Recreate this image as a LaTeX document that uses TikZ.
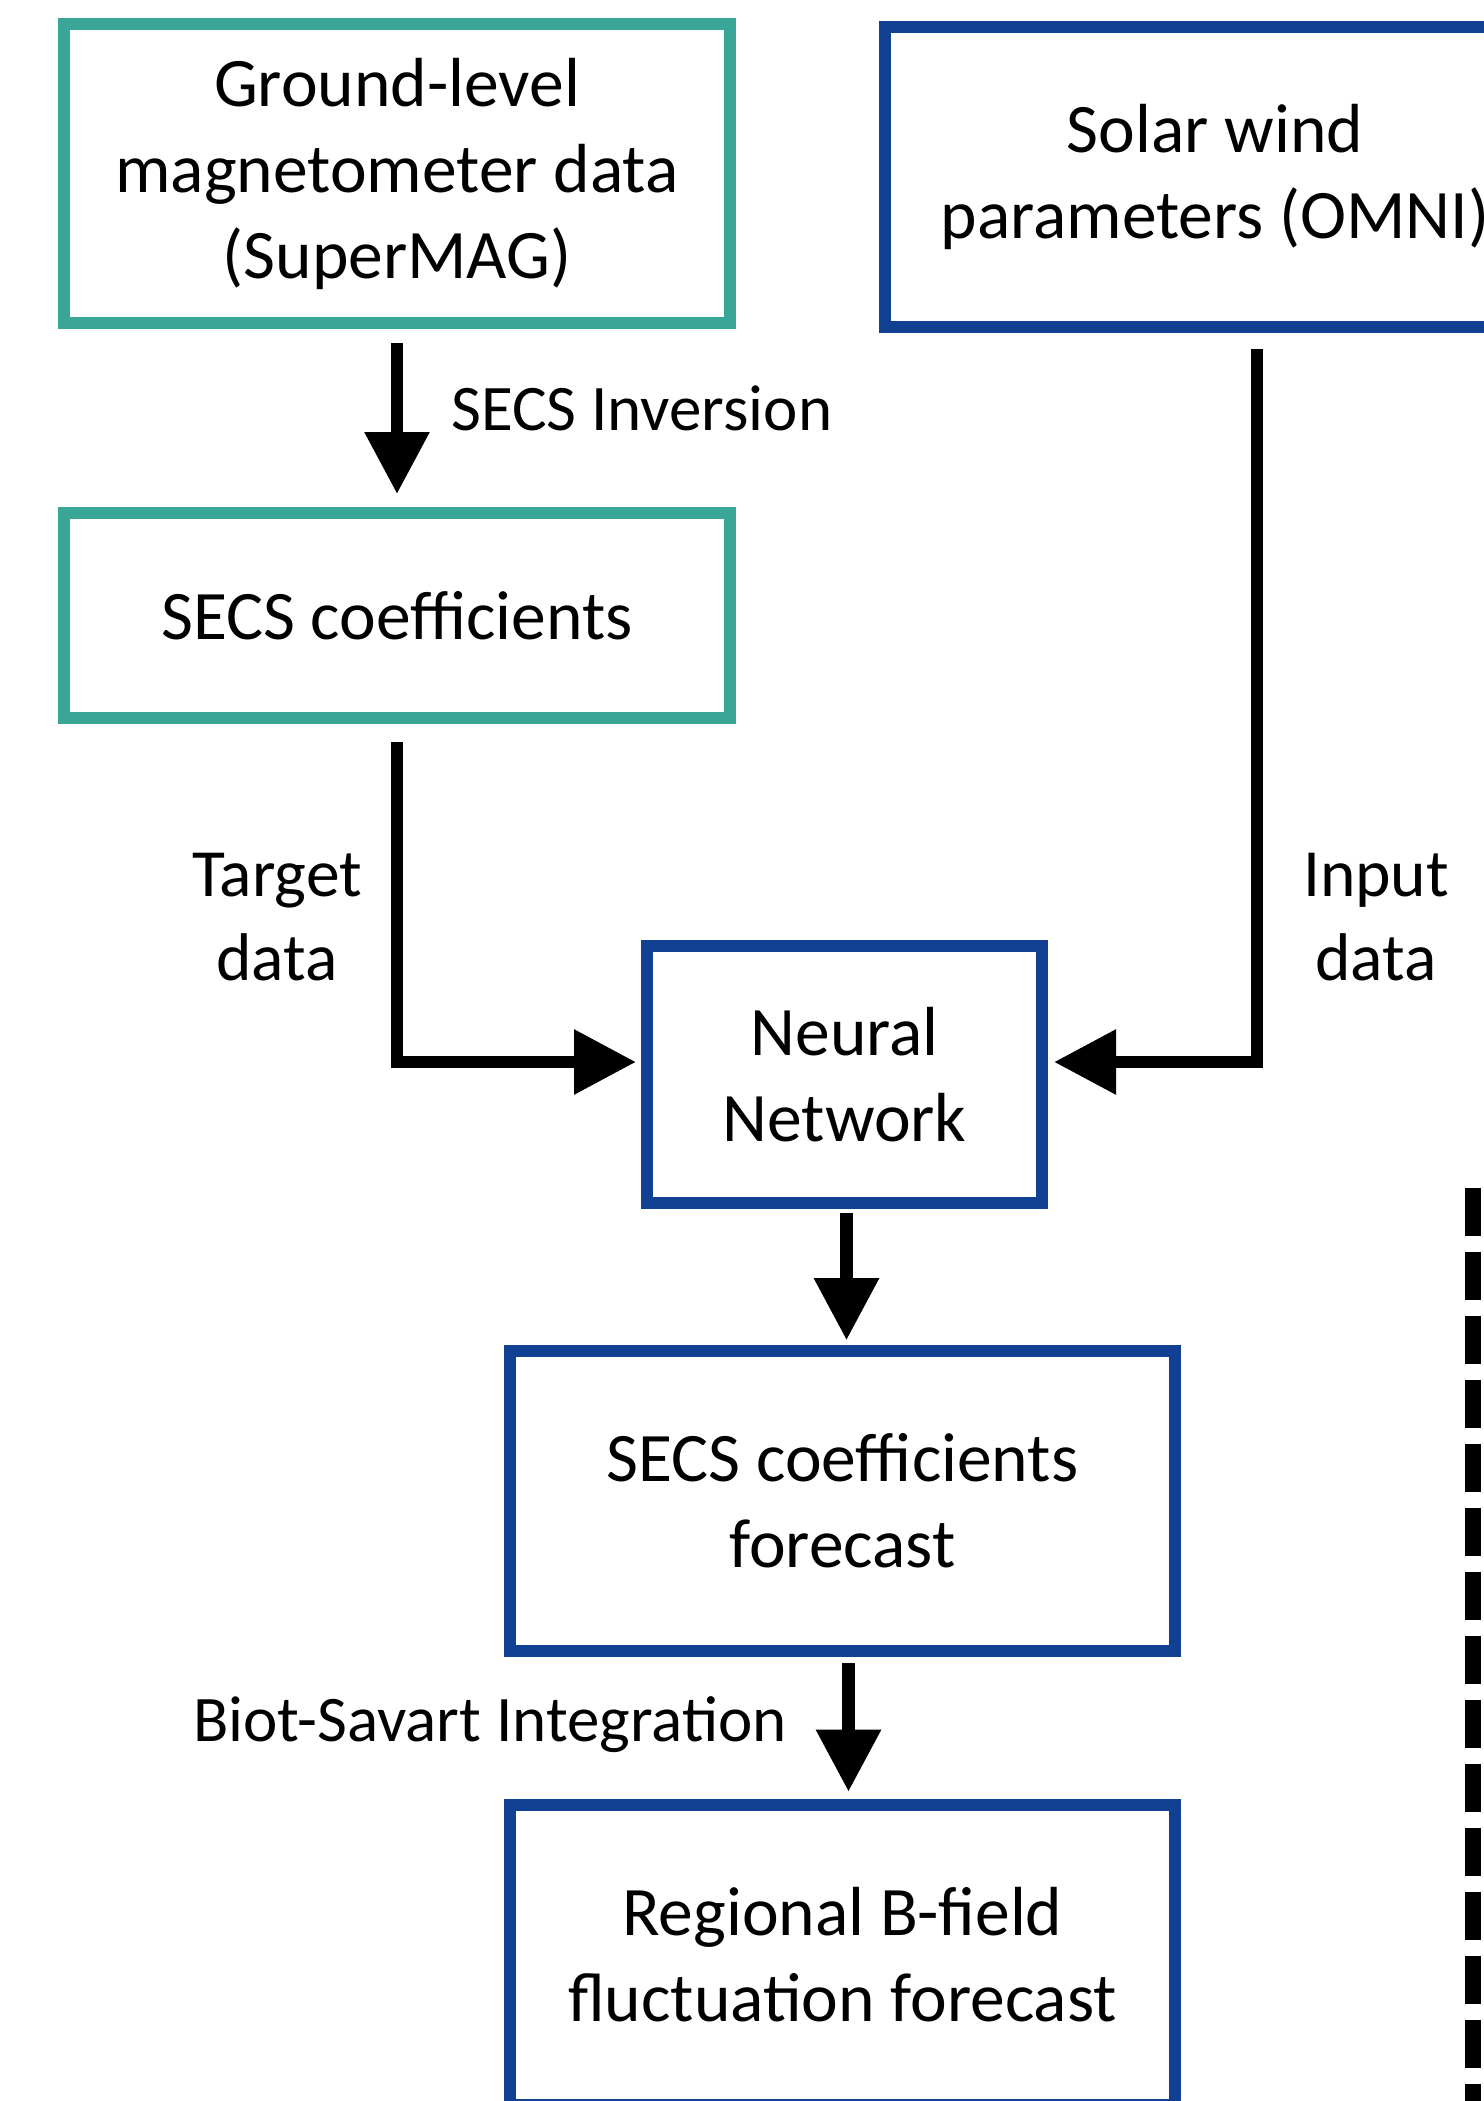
\documentclass[tikz,border=0pt]{standalone}
\usepackage{fontspec}
\setmainfont{Carlito}
\usetikzlibrary{arrows.meta,calc}
\definecolor{tealc}{RGB}{58,166,152}
\definecolor{bluec}{RGB}{17,64,146}
\begin{document}
\begin{tikzpicture}[x=0.5pt,y=-0.5pt,
  box/.style={draw, line width=6pt, inner sep=0pt, outer sep=0pt, align=center,
    font=\fontsize{34.75}{43}\selectfont},
  tealbox/.style={box, draw=tealc},
  bluebox/.style={box, draw=bluec},
  conn/.style={line width=6.2pt, -{Triangle[width=31pt,length=31pt]}},
  lab/.style={font=\fontsize{32.5}{42}\selectfont, align=center, inner sep=0pt},
  sidelab/.style={font=\fontsize{33.75}{42}\selectfont, align=center, inner sep=0pt},
  dashline/.style={line width=8pt, dash pattern=on 23.85pt off 8.15pt},
]
\clip (0,0) rectangle (1484,2101);

% boxes
\node[tealbox, minimum width=333pt, minimum height=149.5pt] (b1) at (397,173.6)
  {Ground-level\\magnetometer data\\(SuperMAG)};
\node[bluebox, minimum width=330pt, minimum height=150pt] (b2) at (1215,177)
  {\raisebox{2pt}{Solar wind}\\\raisebox{2pt}{parameters (OMNI)}};
\node[tealbox, minimum width=333pt, minimum height=102.5pt] (b3) at (397,615.8)
  {SECS coefficients};
\node[bluebox, minimum width=197.5pt, minimum height=128.5pt] (nn) at (844.5,1074.5)
  {Neural\\Network};
\node[bluebox, minimum width=332.5pt, minimum height=150pt] (f) at (842.5,1500.7)
  {SECS coefficients\\forecast};
\node[bluebox, minimum width=332.5pt, minimum height=150pt] (r) at (842.5,1954.5)
  {Regional B-field\\fluctuation forecast};

% labels
\node[lab, anchor=west] (inv) at (451,408) {SECS Inversion};
\node[sidelab] (tgt) at (277,917) {Target\\data};
\node[sidelab] (inp) at (1376,917) {Input\\data};
\node[lab, anchor=east] (bs) at (787,1725) {Biot-Savart Integration};

% connectors
\coordinate (nnS) at ([xshift=1pt]nn.south);
\coordinate (fS) at ([xshift=3pt]f.south);
\draw[conn] ([yshift=-9.8pt]b1.south) -- ([yshift=9.65pt]b3.north);
\draw[conn] ([yshift=-11.7pt]b3.south) |- ([xshift=-5.5pt,yshift=6.25pt]nn.west);
\draw[conn] ([xshift=20.85pt,yshift=-11.15pt]b2.south) |- ([xshift=6pt,yshift=6.25pt]nn.east);
\draw[conn] ($(nnS)+(0,9.7)$) -- ($(nnS |- f.north)+(0,-10.5)$);
\draw[conn] ($(fS)+(0,12.5)$) -- ($(fS |- r.north)+(0,-12.8)$);

% dashed line
\coordinate (dtop) at (1472.5,1188.3);
\coordinate (dbot) at (1472.5,2130);
\draw[dashline] (dtop) -- (dbot);
\end{tikzpicture}
\end{document}
